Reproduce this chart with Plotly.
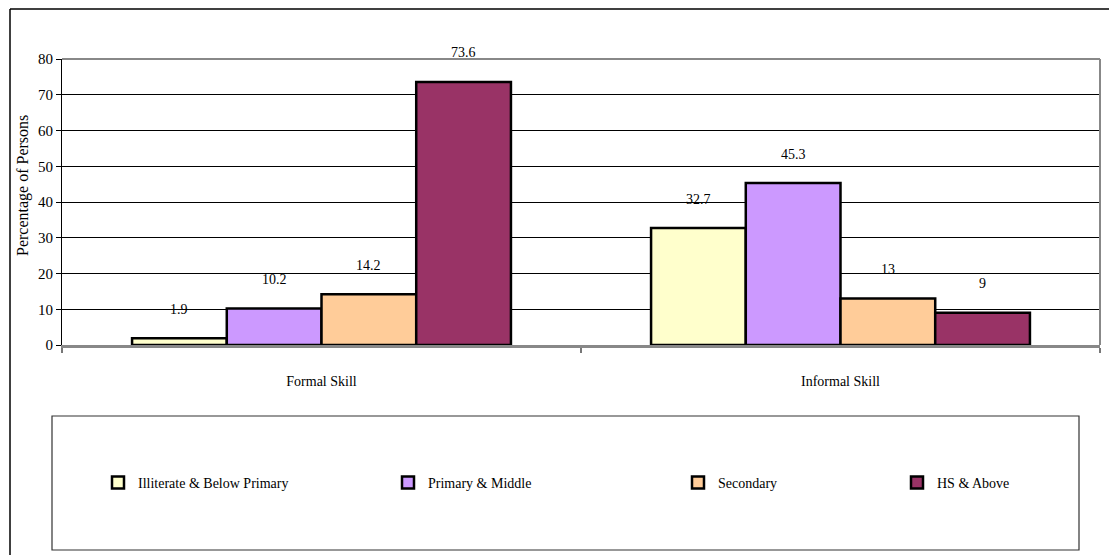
import plotly.graph_objects as go

categories = ["Formal Skill", "Informal Skill"]
series_names = ["Illiterate & Below Primary", "Primary & Middle", "Secondary", "HS & Above"]
illiterate = [1.9, 32.7]
primary_middle = [10.2, 45.3]
secondary = [14.2, 13]
hs_above = [73.6, 9]
y_ticks = [0, 10, 20, 30, 40, 50, 60, 70, 80]

series_values = [illiterate, primary_middle, secondary, hs_above]
colors = ["#FFFFCC", "#CC99FF", "#FFCC99", "#993366"]

W, H = 1109, 555
L, R, T, B = 62, 1100, 59, 345
FONT = "Liberation Serif"
FS = 14
BARGAP = 0.27

fig = go.Figure()
legend_ids = ["legend", "legend2", "legend3", "legend4"]
for name, vals, col, lg in zip(series_names, series_values, colors, legend_ids):
    fig.add_trace(go.Bar(
        x=categories, y=vals, name=name, legend=lg,
        marker=dict(color=col, line=dict(color="black", width=2.5)),
    ))

# data labels above bars
n = len(series_values)
bw = (1 - BARGAP) / n
for k, vals in enumerate(series_values):
    off = -(1 - BARGAP) / 2 + bw * (k + 0.5)
    for i, v in enumerate(vals):
        fig.add_annotation(x=i + off, y=v, xref="x", yref="y", text=f"{v:g}",
                           showarrow=False, yshift=29, yanchor="middle",
                           font=dict(family=FONT, size=FS, color="black"))

pw, ph = R - L, B - T
def px(x):
    return (x - L) / pw
def py(y):
    return (B - y) / ph

# legend box
fig.add_shape(type="rect", xref="paper", yref="paper",
              x0=px(52), x1=px(1079), y0=py(550), y1=py(416),
              line=dict(color="#333333", width=1.2), fillcolor="rgba(0,0,0,0)")
# outer frame (left and top)
fig.add_shape(type="line", xref="paper", yref="paper",
              x0=px(10), x1=px(1115), y0=py(9), y1=py(9),
              line=dict(color="black", width=1.5))
fig.add_shape(type="line", xref="paper", yref="paper",
              x0=px(10), x1=px(10), y0=py(9), y1=py(560),
              line=dict(color="black", width=1.5))
# plot area border (top/right gray)
fig.add_shape(type="line", xref="paper", yref="paper",
              x0=0, x1=1, y0=1, y1=1, line=dict(color="#888888", width=2))
fig.add_shape(type="line", xref="paper", yref="paper",
              x0=1, x1=1, y0=0, y1=1, line=dict(color="#888888", width=2))

# y-axis title as annotation (positioned like reference)
fig.add_annotation(x=px(23), y=py(186), xref="paper", yref="paper",
                   text="Percentage of Persons", textangle=-90, showarrow=False,
                   xanchor="center", yanchor="middle",
                   font=dict(family=FONT, size=16, color="black"))

leg_common = dict(orientation="h", bgcolor="rgba(0,0,0,0)", borderwidth=0,
                  font=dict(family=FONT, size=FS, color="black"),
                  yanchor="middle", xanchor="left", y=py(483))
leg_x = [98, 388, 678, 897]
layout_legends = {lg: dict(leg_common, x=px(xx)) for lg, xx in zip(legend_ids, leg_x)}

fig.update_layout(
    width=W, height=H,
    margin=dict(l=L, r=W - R, t=T, b=H - B, pad=0),
    paper_bgcolor="white", plot_bgcolor="white",
    barmode="group", bargap=BARGAP, bargroupgap=0,
    font=dict(family=FONT, size=FS, color="black"),
    showlegend=True,
    **layout_legends,
    xaxis=dict(
        type="category", tickson="boundaries", ticks="outside", ticklen=5,
        tickcolor="#777777", tickwidth=1.5,
        showline=True, linecolor="#888888", linewidth=2.5,
        showgrid=False, ticklabelstandoff=21,
        tickfont=dict(family=FONT, size=FS, color="black"),
    ),
    yaxis=dict(
        range=[0, 80], tickvals=y_ticks, ticks="outside", ticklen=5,
        tickcolor="black", tickwidth=1,
        showline=True, linecolor="black", linewidth=1.2,
        showgrid=True, gridcolor="black", gridwidth=1,
        zeroline=False,
        tickfont=dict(family=FONT, size=15, color="black"),
    ),
)

fig.write_html("out.html")
